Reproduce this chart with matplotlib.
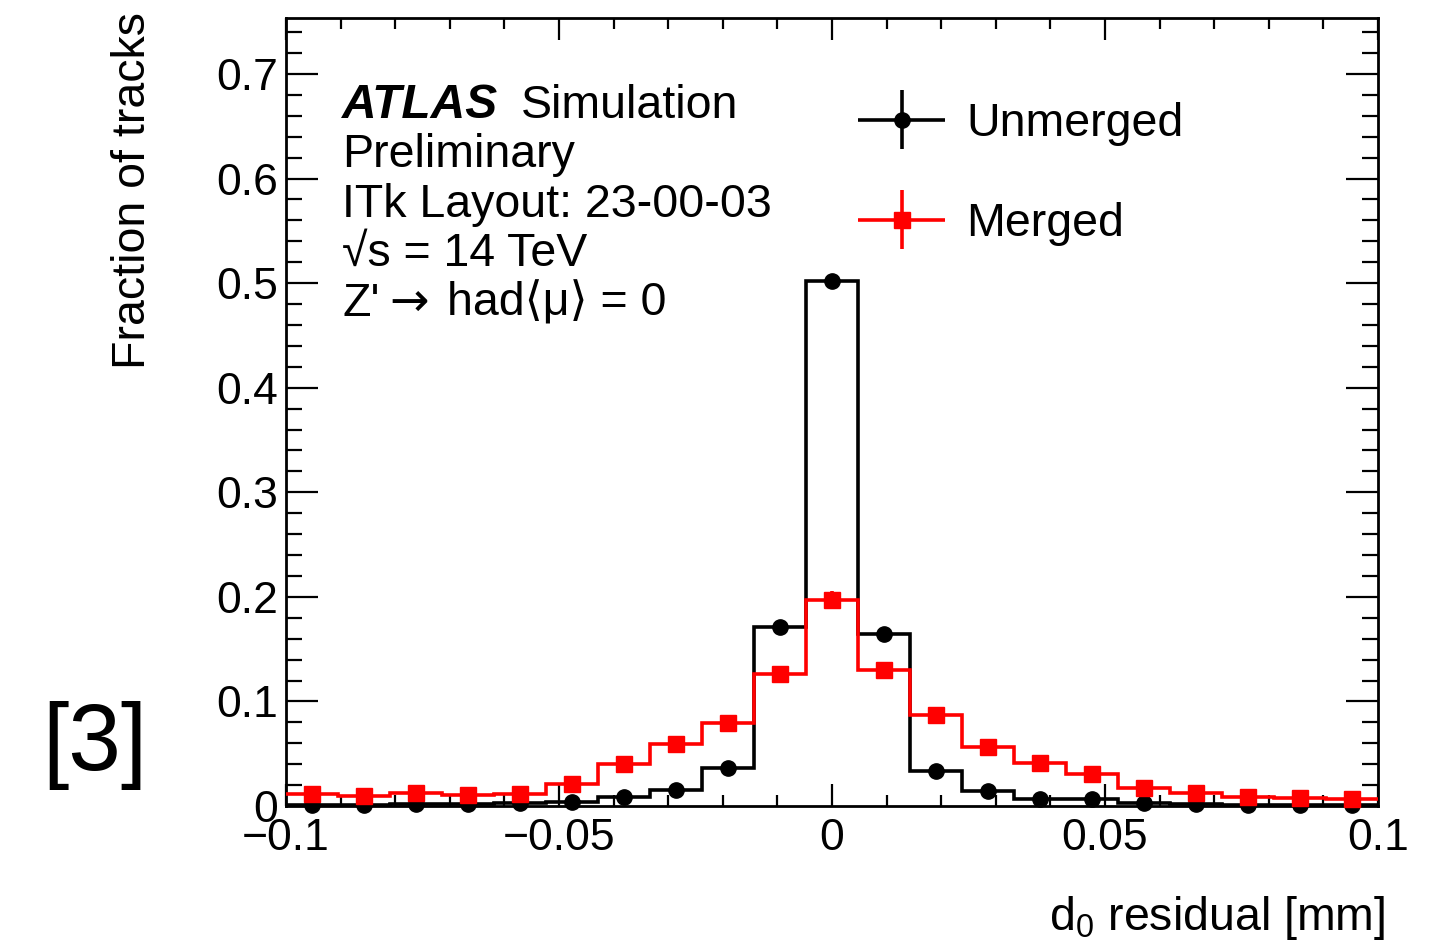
import numpy as np
import matplotlib
matplotlib.use("Agg")
import matplotlib.pyplot as plt
from matplotlib.ticker import MultipleLocator
from matplotlib.legend_handler import HandlerErrorbar

plt.rcParams['font.family'] = ['Liberation Sans', 'DejaVu Sans']
plt.rcParams['mathtext.fontset'] = 'custom'
plt.rcParams['mathtext.rm'] = 'Liberation Sans'
plt.rcParams['mathtext.it'] = 'Liberation Sans:italic'

# 21 bins between -0.1 and 0.1 mm
edges = np.linspace(-0.1, 0.1, 22)
centers = 0.5 * (edges[:-1] + edges[1:])

unmerged = [0.0008, 0.0010, 0.0018, 0.0015, 0.0030, 0.0040, 0.0090, 0.0156, 0.0367, 0.1710,
            0.5020, 0.1640, 0.0332, 0.0139, 0.0069, 0.0069, 0.0025, 0.0015, 0.0010, 0.0010, 0.0008]
unmerged_err = [0.0003, 0.0003, 0.0004, 0.0004, 0.0005, 0.0006, 0.0009, 0.0012, 0.0018, 0.0040,
                0.0060, 0.0040, 0.0018, 0.0012, 0.0008, 0.0008, 0.0005, 0.0004, 0.0003, 0.0003, 0.0003]
merged = [0.0117, 0.0100, 0.0123, 0.0108, 0.0110, 0.0213, 0.0406, 0.0590, 0.0790, 0.1260,
          0.1970, 0.1296, 0.0867, 0.0560, 0.0415, 0.0303, 0.0175, 0.0127, 0.0085, 0.0079, 0.0063]
merged_err = [0.0010, 0.0010, 0.0010, 0.0010, 0.0010, 0.0015, 0.0020, 0.0025, 0.0030, 0.0050,
              0.0090, 0.0050, 0.0030, 0.0025, 0.0020, 0.0018, 0.0014, 0.0012, 0.0010, 0.0010, 0.0009]

fs = 32    # tick labels
tfs = 33.5 # other texts
W, H = 1435, 943
fig = plt.figure(figsize=(14.35, 9.43), dpi=100)
ax = fig.add_axes([286 / W, 1 - 806 / H, (1378 - 286) / W, (806 - 18) / H])

ax.stairs(unmerged, edges, baseline=None, color="black", linewidth=2.6, zorder=2)
ax.stairs(merged, edges, baseline=None, color="red", linewidth=2.6, zorder=3)
ax.errorbar(centers, unmerged, yerr=unmerged_err, xerr=np.zeros(21), fmt="o", color="black",
            ms=11, elinewidth=2.6, capsize=0, label="Unmerged", zorder=4, clip_on=False)
ax.errorbar(centers, merged, yerr=merged_err, xerr=np.zeros(21), fmt="s", color="red",
            ms=11, elinewidth=2.6, capsize=0, label="Merged", zorder=5, clip_on=False)

ax.set_xlim(-0.1, 0.1)
ax.set_ylim(0, 0.7535)
ax.xaxis.set_major_locator(MultipleLocator(0.05))
ax.xaxis.set_minor_locator(MultipleLocator(0.01))
ax.yaxis.set_major_locator(MultipleLocator(0.1))
ax.yaxis.set_minor_locator(MultipleLocator(0.02))
ax.set_xticks([-0.1, -0.05, 0, 0.05, 0.1])
ax.set_xticklabels(["\u22120.1", "\u22120.05", "0", "0.05", "0.1"])
ax.set_yticks([0, 0.1, 0.2, 0.3, 0.4, 0.5, 0.6, 0.7])
ax.set_yticklabels(["0", "0.1", "0.2", "0.3", "0.4", "0.5", "0.6", "0.7"])
ax.tick_params(axis="both", which="both", direction="in", top=True, right=True,
               labelsize=fs, width=1.6)
ax.tick_params(axis="y", which="major", length=23, pad=6)
ax.tick_params(axis="y", which="minor", length=11.5)
ax.tick_params(axis="x", which="major", length=16, pad=9)
ax.tick_params(axis="x", which="minor", length=8)
for sp in ax.spines.values():
    sp.set_linewidth(2.0)

leg = ax.legend(loc="upper left", bbox_to_anchor=((858 - 286) / 1092, (806 - 102) / 788),
                frameon=False, fontsize=tfs, handlelength=1.88, handletextpad=0.45,
                labelspacing=1.2, borderpad=0, borderaxespad=0,
                handler_map={type(ax.containers[0]): HandlerErrorbar(xerr_size=0.93, yerr_size=0.64)})

# labels
fig.text(133 / W, 1 - 12 / H, "Fraction of tracks", rotation=90, ha="center", va="top", fontsize=tfs)
fig.text(1385 / W, 1 - 930 / H, r"d$_0$ residual [mm]", ha="right", va="baseline", fontsize=tfs)

# ATLAS block
x0 = 342 / W
fig.text(x0, 1 - 118 / H, "ATLAS", fontsize=tfs + 1, fontweight="bold", fontstyle="italic", va="baseline")
fig.text(521 / W, 1 - 118 / H, "Simulation", fontsize=tfs, va="baseline")
fig.text(x0, 1 - 167 / H, "Preliminary", fontsize=tfs, va="baseline")
fig.text(x0, 1 - 217 / H, "ITk Layout: 23-00-03", fontsize=tfs, va="baseline")
fig.text(x0, 1 - 266 / H, "\u221as = 14 TeV", fontsize=tfs, va="baseline")
fig.text(x0, 1 - 316 / H, "Z'", fontsize=tfs, va="baseline")
fig.text(389 / W, 1 - 316 / H, "\u2192", fontsize=34, family="DejaVu Sans", va="baseline")
fig.text(447 / W, 1 - 316 / H, "had\u27e8\u03bc\u27e9 = 0", fontsize=tfs, va="baseline")

fig.text(95 / W, 1 - 745 / H, "[3]", fontsize=68, ha="center", va="center")

fig.savefig("out.png", dpi=100)
